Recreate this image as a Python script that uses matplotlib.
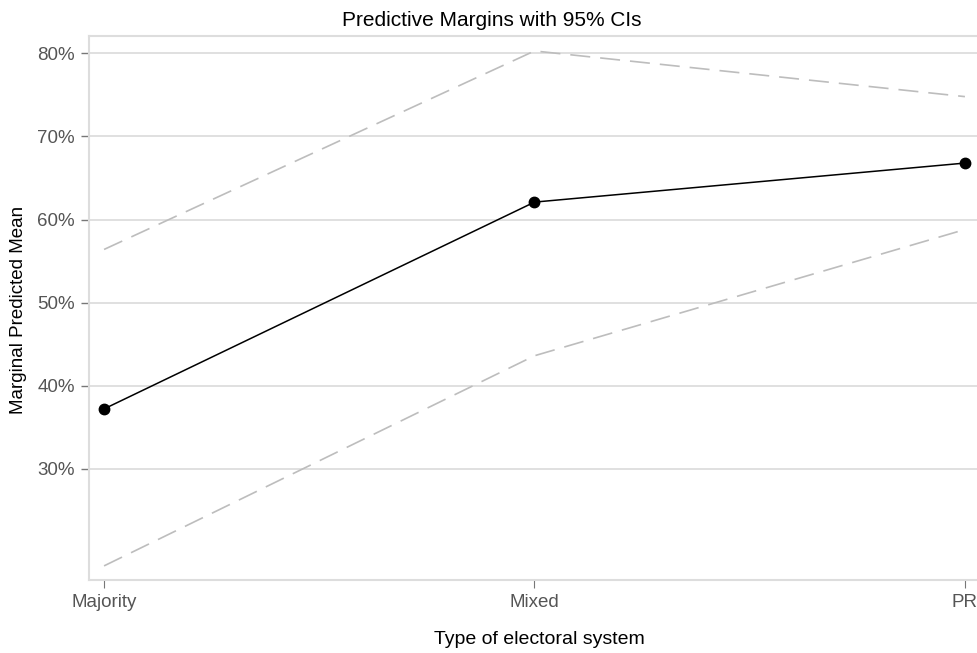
import matplotlib
matplotlib.use("Agg")
import matplotlib.pyplot as plt
from matplotlib.ticker import FixedLocator, FuncFormatter

# Predictive margins by electoral system (proportions, in %)
systems = ["Majority", "Mixed", "PR"]
margin = [37.2, 62.1, 66.8]
ci_upper = [56.4, 80.3, 74.8]
ci_lower = [18.3, 43.6, 58.8]
y_ticks = [30, 40, 50, 60, 70, 80]

plt.rcParams["font.family"] = ["Liberation Sans", "DejaVu Sans"]

fig = plt.figure(figsize=(9.77, 6.53), dpi=100)
ax = fig.add_axes([89 / 977, 1 - 580 / 653, 891 / 977, 544 / 653])

x = list(range(len(systems)))
grey = "#bdbdbd"
ax.plot(x, ci_upper, color=grey, lw=1.2, linestyle=(0, (12, 6)), zorder=2)
ax.plot(x, ci_lower, color=grey, lw=1.2, linestyle=(0, (12, 6)), zorder=2)
ax.plot(x, margin, color="black", lw=1.1, marker="o", markersize=7.5,
        markerfacecolor="black", zorder=3)

ax.set_xlim(-0.035, 2.035)
ax.set_ylim(16.6, 82.1)

ax.yaxis.set_major_locator(FixedLocator(y_ticks))
ax.yaxis.set_major_formatter(FuncFormatter(lambda v, p: f"{v:.0f}%"))
ax.set_xticks(x)
ax.set_xticklabels(systems)

ax.grid(axis="y", color="#dddddd", lw=1.3, zorder=0)
for s in ax.spines.values():
    s.set_color("#dddddd")
    s.set_linewidth(1.5)

ax.tick_params(axis="y", direction="out", length=6, width=1, color="#777777",
               labelcolor="#555555", labelsize=13.5, pad=4)
ax.tick_params(axis="x", direction="out", length=6, width=0.8, color="#777777",
               labelcolor="#555555", labelsize=13.5, pad=4)

fig.text(492 / 977, 1 - 20 / 653, "Predictive Margins with 95% CIs",
         fontsize=15, ha="center", va="center")
ax.set_ylabel("Marginal Predicted Mean", fontsize=13.5)
ax.set_xlabel("Type of electoral system", fontsize=14)
ax.yaxis.set_label_coords(-71 / 891, (580 - 310) / 544)
ax.xaxis.set_label_coords((539 - 89) / 891, -(640 - 580) / 544)
ax.xaxis.label.set_va("center")
ax.yaxis.label.set_va("center")

fig.savefig("out.png", dpi=100)
